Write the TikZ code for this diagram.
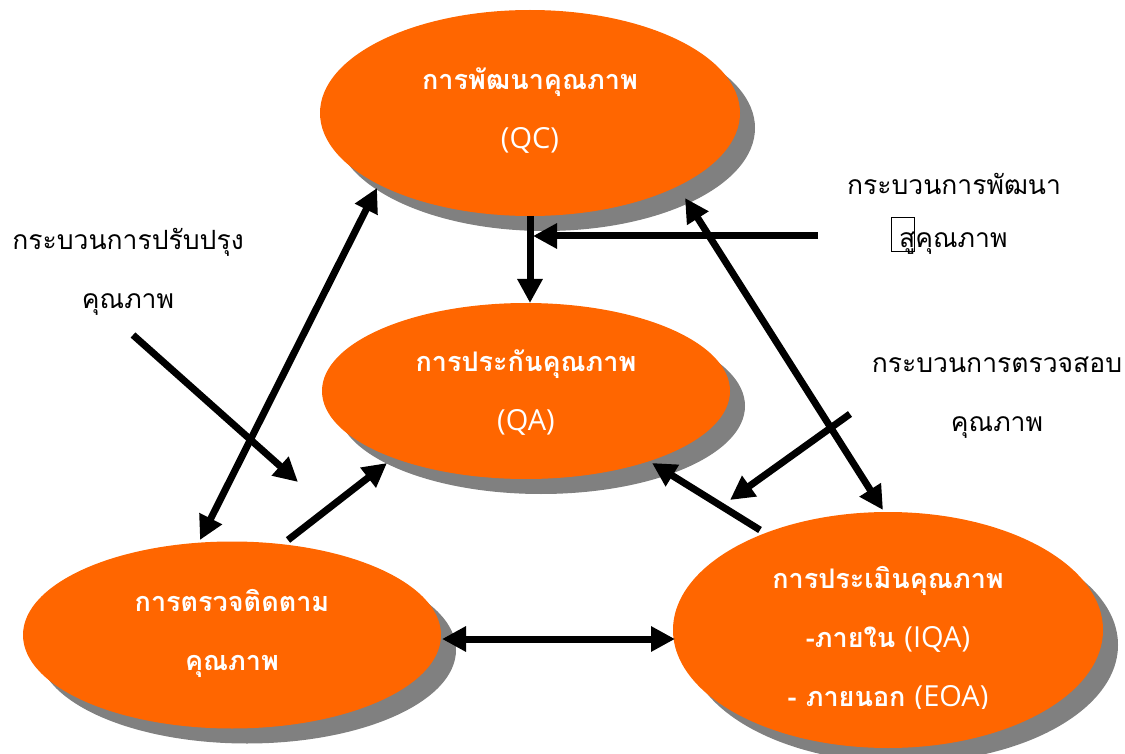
\documentclass[tikz,border=0pt]{standalone}
\usepackage{fontspec}
\setmainfont{Loma}[Script=Thai]
\newfontfamily\latinfont{Open Sans}
\usetikzlibrary{arrows.meta,shapes.geometric}
\definecolor{org}{HTML}{FF6600}
\definecolor{shd}{HTML}{808080}
\tikzset{
  oval/.style={ellipse, fill=org, inner sep=0pt, text=white, align=center, font=\fontsize{27}{59}\selectfont\bfseries},
  shadowoval/.style={ellipse, fill=shd, inner sep=0pt},
  lbl/.style={align=center, font=\fontsize{26.5}{59}\selectfont, inner sep=0pt},
  arr/.style={line width=7pt, -{Triangle[length=24pt,width=24pt]}},
  darr/.style={line width=7pt, {Triangle[length=24pt,width=24pt]}-{Triangle[length=24pt,width=24pt]}},
}
\newcommand{\lat}[1]{{\latinfont\mdseries\fontsize{29}{59}\selectfont #1}}
\begin{document}
\begin{tikzpicture}[x=1pt,y=-1pt]
\useasboundingbox (0,0) rectangle (1125,754);
% shadows
\node[shadowoval, minimum width=420pt, minimum height=206pt] at (545,128) {};
\node[shadowoval, minimum width=408pt, minimum height=176pt] at (541,406) {};
\node[shadowoval, minimum width=418pt, minimum height=187pt] at (247,650) {};
\node[shadowoval, minimum width=430pt, minimum height=236pt] at (903,645) {};
% ellipses
\node[oval, minimum width=420pt, minimum height=206pt] (qc) at (530,113) {};
\node[oval, minimum width=408pt, minimum height=176pt] (qa) at (526,391) {};
\node[oval, minimum width=418pt, minimum height=187pt] (mon) at (232,635) {};
\node[oval, minimum width=430pt, minimum height=236pt] (eva) at (888,630) {};
% ellipse texts
\node[oval, fill=none, minimum size=0pt] (qct) at (530,111) {การพัฒนาคุณภาพ\\\lat{(QC)}};
\node[oval, fill=none, minimum size=0pt] (qat) at (526,393) {การประกันคุณภาพ\\\lat{(QA)}};
\node[oval, fill=none, minimum size=0pt] (mont) at (232,633) {การตรวจติดตาม\\คุณภาพ};
\begin{scope}
\clip (650,540) rectangle (1125,708);
\node[oval, fill=none, minimum size=0pt] (evat) at (888,639) {การประเมินคุณภาพ\\-ภายใน \lat{(IQA)}\\- ภายนอก \lat{(EOA)}};
\end{scope}
% free labels
\node[lbl] (l1) at (128,272) {กระบวนการปรับปรุง\\คุณภาพ};
\node[lbl] (l2) at (954,213) {กระบวนการพัฒนา\\\hphantom{สูคุณภาพ}};
\node[lbl, anchor=west] (l2b) at (899,243) {สูคุณภาพ};
\draw[line width=0.8pt] (891,217) rectangle (914,251);
\node[lbl] (l3) at (997,398) {กระบวนการตรวจสอบ\\คุณภาพ};
% coordinates
\coordinate (qcb) at (530,216);
\coordinate (qatop) at (530,303);
\coordinate (hstart) at (818,236);
\coordinate (hend) at (533,236);
\coordinate (qcl) at (377,188);
\coordinate (monl) at (200,540);
\coordinate (qcr) at (685,198);
\coordinate (evar) at (883,510);
\coordinate (imps) at (133,335);
\coordinate (impe) at (298,482);
\coordinate (mons) at (288,540);
\coordinate (qal) at (387,463);
\coordinate (insps) at (850,414);
\coordinate (inspe) at (730,500);
\coordinate (evas) at (760,530);
\coordinate (qar) at (652,463);
\coordinate (monr) at (442,639);
\coordinate (eval) at (675,639);
% arrows
\draw[arr] (qcb) -- (qatop);
\draw[arr] (hstart) -- (hend);
\draw[darr] (monl) -- (qcl);
\draw[darr] (qcr) -- (evar);
\draw[arr] (imps) -- (impe);
\draw[arr] (mons) -- (qal);
\draw[arr] (insps) -- (inspe);
\draw[arr] (evas) -- (qar);
\draw[darr] (monr) -- (eval);
\end{tikzpicture}
\end{document}
